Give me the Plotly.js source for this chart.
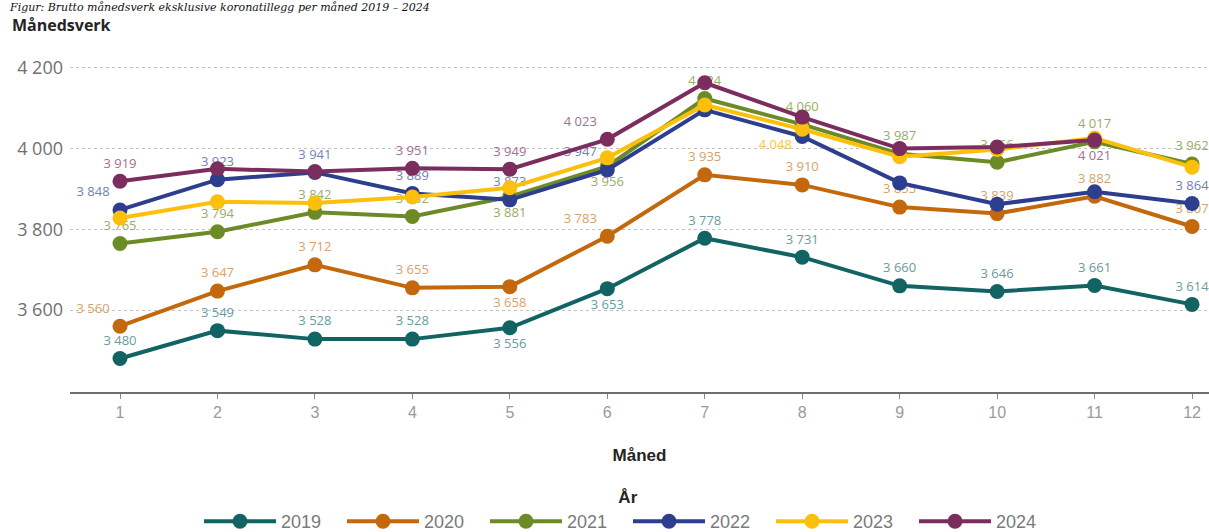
<!DOCTYPE html>
<html>
<head>
<meta charset="utf-8">
<script src="https://cdn.plot.ly/plotly-3.0.1.min.js"></script>
<style>
  html, body { margin: 0; padding: 0; background: #fff; }
  #chart { width: 1209px; height: 532px; }
</style>
</head>
<body>
<div id="chart"></div>
<script>
// Månedsverk per måned, 2019–2024
const months = [1, 2, 3, 4, 5, 6, 7, 8, 9, 10, 11, 12];
const years = ['2019', '2020', '2021', '2022', '2023', '2024'];

const v2019 = [3480, 3549, 3528, 3528, 3556, 3653, 3778, 3731, 3660, 3646, 3661, 3614];
const v2020 = [3560, 3647, 3712, 3655, 3658, 3783, 3935, 3910, 3855, 3839, 3882, 3807];
const v2021 = [3765, 3794, 3842, 3832, 3881, 3956, 4124, 4060, 3987, 3966, 4017, 3962];
const v2022 = [3848, 3923, 3941, 3889, 3873, 3947, 4096, 4030, 3915, 3862, 3893, 3864];
const v2023 = [3828, 3868, 3865, 3880, 3903, 3977, 4108, 4048, 3980, 3998, 4026, 3954];
const v2024 = [3919, 3950, 3943, 3951, 3949, 4023, 4163, 4078, 4000, 4004, 4021];

const yTicks = [3600, 3800, 4000, 4200];

// Series styling
const lineColors = ['#126363', '#c3680c', '#6c8b27', '#2d3e8e', '#fcc00c', '#7b2d5e'];
const labelColors = ['#6a9b9c', '#d6a26c', '#98ac6a', '#7481b8', '#f2c64c', '#a86d90'];

// Where each value label sits (null = label not shown)
const T = 'top center', B = 'bottom center', TL = 'top left', BL = 'bottom left';
const labelPos = [
  [T, T, T, T, B, B, T, T, T, T, T, T],
  [TL, T, T, T, B, TL, T, T, T, T, T, T],
  [T, T, T, T, B, B, T, T, T, T, T, T],
  [TL, T, T, T, T, TL, null, null, null, null, null, T],
  [null, null, null, null, null, null, null, BL, null, null, null, null],
  [T, null, null, T, T, TL, null, null, null, null, B]
];

const series = [v2019, v2020, v2021, v2022, v2023, v2024];

const traces = series.map((vals, i) => ({
  type: 'scatter',
  mode: 'lines+markers+text',
  name: years[i],
  x: months.slice(0, vals.length),
  y: vals,
  line: { color: lineColors[i], width: 4 },
  marker: { color: lineColors[i], size: 15 },
  textposition: labelPos[i].map(p => p || T),
  texttemplate: labelPos[i].map(p => (p ? '%{y:,.0f}' : '')),
  textfont: { family: 'Open Sans, sans-serif', size: 13, color: labelColors[i] },
  cliponaxis: false,
  hoverinfo: 'x+y+name'
}));

// plot area: 40px from the top, 352px tall
const plotTop = 40, plotH = 352;
const py = px => (plotTop + plotH - px) / plotH;

const narrow = 'Liberation Sans Narrow, Arial Narrow, sans-serif';

const layout = {
  width: 1209,
  height: 532,
  paper_bgcolor: '#ffffff',
  plot_bgcolor: '#ffffff',
  separators: ', ',
  margin: { l: 70, r: 0, t: plotTop, b: 532 - plotTop - plotH, pad: 0 },
  showlegend: true,
  xaxis: {
    range: [0.487, 12.174],
    tickvals: months,
    ticktext: months.map(String),
    showgrid: false,
    zeroline: false,
    showline: true,
    linecolor: '#6e6e6e',
    linewidth: 2,
    ticks: 'outside',
    ticklen: 5,
    tickwidth: 1,
    tickcolor: '#8a8a8a',
    tickfont: { family: narrow, size: 16, color: '#9a9a9a' },
    automargin: false,
    title: {
      text: '<b>Måned</b>',
      standoff: 29,
      font: { family: narrow, size: 17, color: '#252423' }
    }
  },
  yaxis: {
    range: [3397, 4269],
    tickvals: yTicks,
    tickformat: ',d',
    showgrid: true,
    gridcolor: '#c4c4c4',
    gridwidth: 1,
    griddash: 'dot',
    zeroline: false,
    showline: false,
    ticks: '',
    automargin: false,
    ticklabelstandoff: 6,
    tickfont: { family: 'Open Sans, sans-serif', size: 18, color: '#707070' }
  },
  legend: {
    orientation: 'h',
    xref: 'container',
    x: 628 / 1209,
    xanchor: 'center',
    yref: 'container',
    y: (532 - 481) / 532,
    yanchor: 'top',
    itemwidth: 72,
    entrywidth: 56,
    entrywidthmode: 'pixels',
    font: { family: narrow, size: 18, color: '#7a7a7a' },
    title: {
      text: '<b>År</b>',
      side: 'top center',
      font: { family: narrow, size: 17, color: '#252423' }
    }
  },
  annotations: [
    {
      text: '<i>Figur: Brutto månedsverk eksklusive koronatillegg per måned 2019 – 2024</i>',
      xref: 'paper', yref: 'paper',
      x: (8 - 70) / 1139, xanchor: 'left',
      y: py(0), yanchor: 'top',
      showarrow: false,
      borderpad: 0,
      font: { family: 'DejaVu Serif, serif', size: 11, color: '#111111' }
    },
    {
      text: '<b>Månedsverk</b>',
      xref: 'paper', yref: 'paper',
      x: (10 - 70) / 1139, xanchor: 'left',
      y: py(25), yanchor: 'middle',
      showarrow: false,
      font: { family: 'Open Sans, sans-serif', size: 16, color: '#252423' }
    }
  ]
};

Plotly.newPlot('chart', traces, layout, { displayModeBar: false, staticPlot: true });
</script>
</body>
</html>
